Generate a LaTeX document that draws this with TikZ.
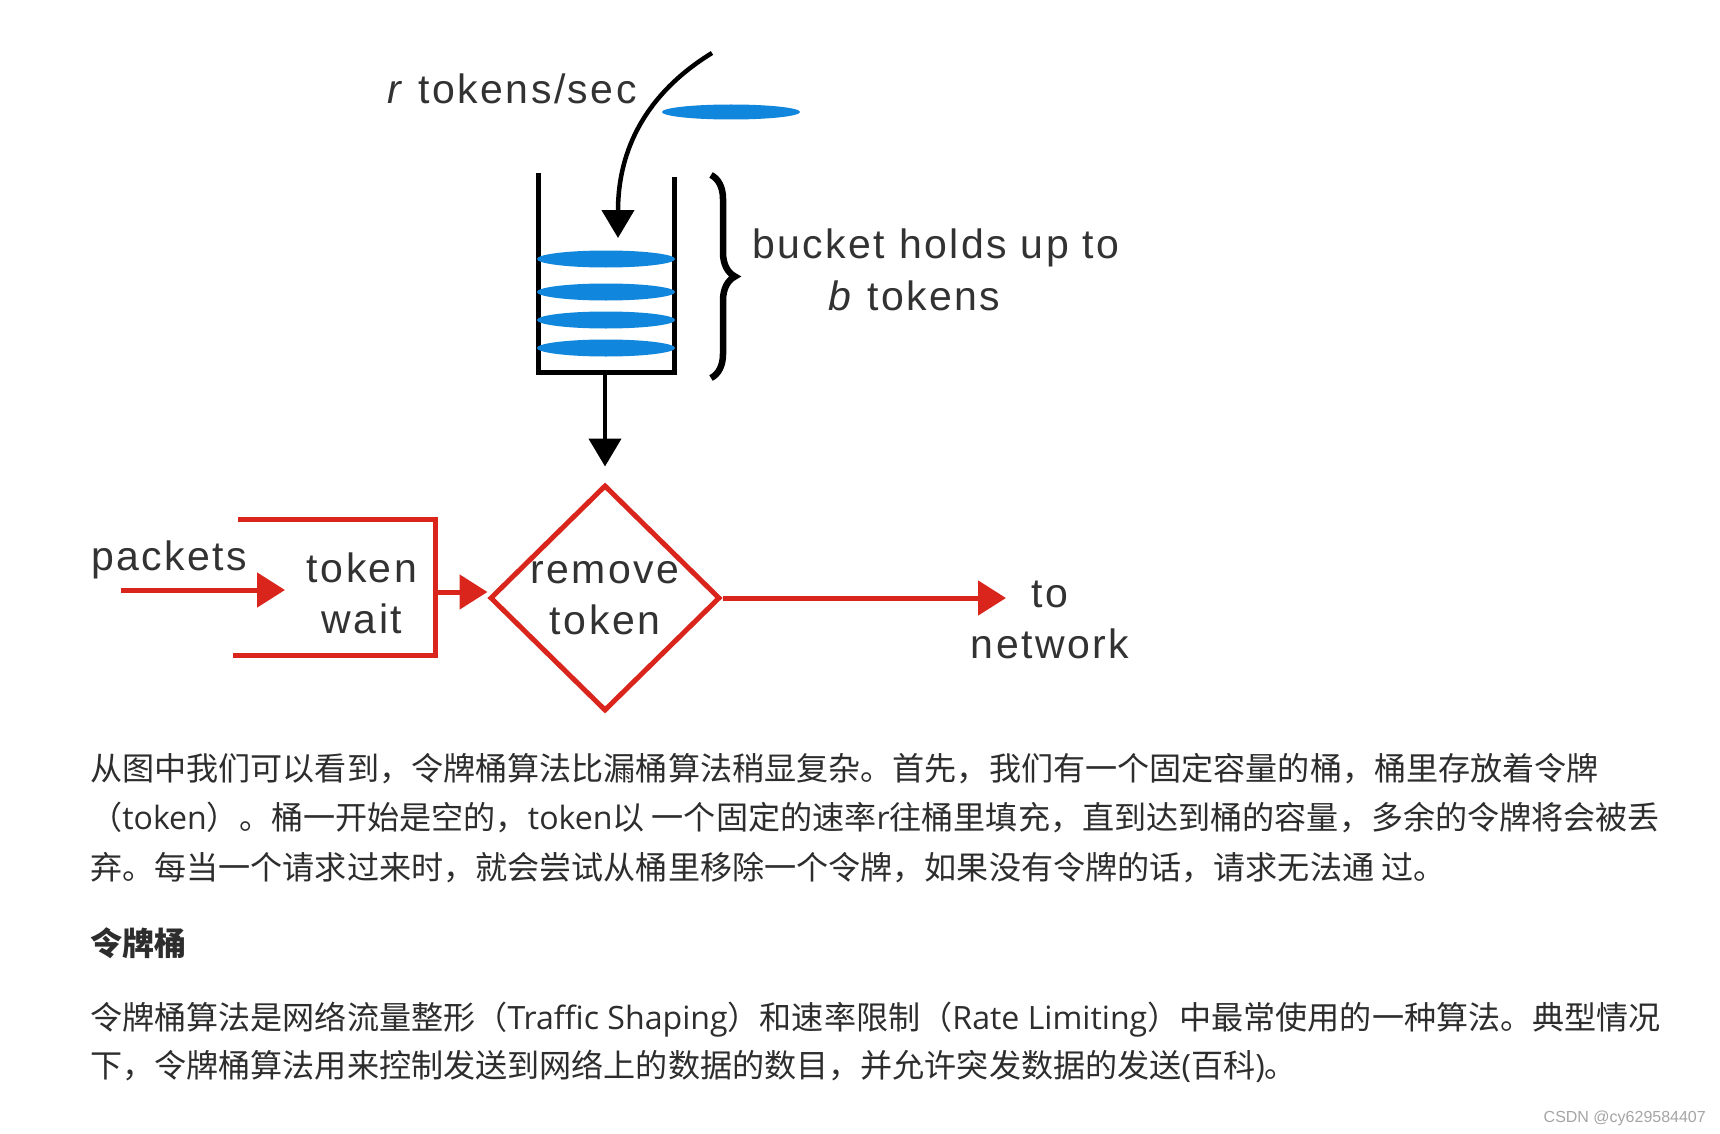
\documentclass[tikz,border=0pt]{standalone}
\usepackage{fontspec}
\setmainfont{Liberation Sans}
\newfontfamily\diagfont[LetterSpace=6]{Liberation Sans}
\newfontfamily\cjk{Noto Sans CJK SC}
\newfontfamily\osans{Open Sans}
\newfontfamily\markfont{Liberation Sans}
\usetikzlibrary{arrows.meta,shapes.geometric,decorations.pathreplacing,positioning}
\definecolor{bucketred}{RGB}{218,37,29}
\definecolor{tokenblue}{RGB}{16,135,220}
\definecolor{labelgray}{RGB}{50,50,50}
\definecolor{bodytext}{RGB}{45,45,45}
\definecolor{markgray}{RGB}{165,165,165}
\newcommand{\lat}[1]{{\osans #1}}
\tikzset{
  diagtext/.style={font=\diagfont\fontsize{41}{51}\selectfont, text=labelgray, inner sep=0pt},
  bodyline/.style={font=\cjk\fontsize{32.1}{49}\selectfont, text=bodytext, anchor=base west, inner sep=0pt},
  redline/.style={draw=bucketred, line width=5pt},
  redarrow/.style={redline, -{Triangle[length=28pt,width=34pt]}},
  blackarrow/.style={line width=4.5pt, -{Triangle[length=28pt,width=32pt]}},
}
\begin{document}
\begin{tikzpicture}[x=1pt, y=-1pt]
		\fill[white] (0,0) rectangle (1720,1134);
		\useasboundingbox (0,0) rectangle (1720,1134);

		% Bucket and tokens
		\draw[line width=5pt] (538,173) -- (538,372) -- (674,372) -- (674,177);
		\foreach \y in {259,292,320,348}
			\fill[tokenblue] (606,\y) ellipse [x radius=69, y radius=8.5];
		\fill[tokenblue] (731,112) ellipse [x radius=69, y radius=7.5];
		\coordinate (bucketbot) at (605,372);

		% Incoming tokens
		\coordinate (feed) at (712,53);
		\coordinate (drop) at (618,238);
		\draw[blackarrow] (feed) .. controls (655,88) and (618,140) .. (drop);
		\node[diagtext, anchor=base west] (rate) at (387,104) {\textit{r} tokens/sec};

		% Brace on the right
		\draw[decorate, decoration={brace, amplitude=24pt}, line width=6.5pt] (711,175) -- (711,378);
		\node[diagtext, anchor=base west] (holds) at (752,258) {bucket holds up to};
		\node[diagtext, anchor=base west] (btok) at (828,310) {\textit{b} tokens};

		% Packet flow
		\node[diagtext, anchor=base west] (packets) at (91,570) {packets};
		\coordinate (pin) at (121,590);
		\coordinate (waitin) at (285,590);
		\draw[redarrow] (pin) -- (waitin);
		\draw[redline] (238,519) -- (435,519) -- (435,655) -- (233,655);
		\node[diagtext, align=center] (wait) at (362,593) {token\\wait};
		\coordinate (waitout) at (435,592);
		\node[diamond, redline, diagtext, align=center, minimum width=230pt, minimum height=226pt] (remove) at (605,598) {remove\\token};
		\draw[redarrow] (waitout) -- (remove.west |- waitout);
		\draw[blackarrow, shorten >=16pt] (bucketbot) -- (remove.north);
		\coordinate (netin) at (1006,598);
		\draw[redarrow] (remove.east) -- (netin);
		\node[diagtext, align=center] (net) at (1050,620) {to\\network};

		% Text below
		\node[bodyline] (l1) at (90,780) {从图中我们可以看到，令牌桶算法比漏桶算法稍显复杂。首先，我们有一个固定容量的桶，桶里存放着令牌};
		\node[bodyline] (l2) at (90,829) {（\lat{token}）。桶一开始是空的，\lat{token}以 一个固定的速率\lat{r}往桶里填充，直到达到桶的容量，多余的令牌将会被丢};
		\node[bodyline] (l3) at (90,879) {弃。每当一个请求过来时，就会尝试从桶里移除一个令牌，如果没有令牌的话，请求无法通 过。};
		\node[bodyline, font=\cjk\bfseries\fontsize{32.1}{49}\selectfont] (head) at (90,955) {令牌桶};
		\node[bodyline] (l5) at (90,1029) {令牌桶算法是网络流量整形（\lat{Traffic Shaping}）和速率限制（\lat{Rate Limiting}）中最常使用的一种算法。典型情况};
		\node[bodyline] (l6) at (90,1077) {下，令牌桶算法用来控制发送到网络上的数据的数目，并允许突发数据的发送\lat{(}百科\lat{)}。};
		\node[anchor=base east, inner sep=0pt, font=\markfont\fontsize{16}{18}\selectfont, text=markgray] (mark) at (1706,1122) {CSDN @cy629584407};
\end{tikzpicture}
\end{document}
